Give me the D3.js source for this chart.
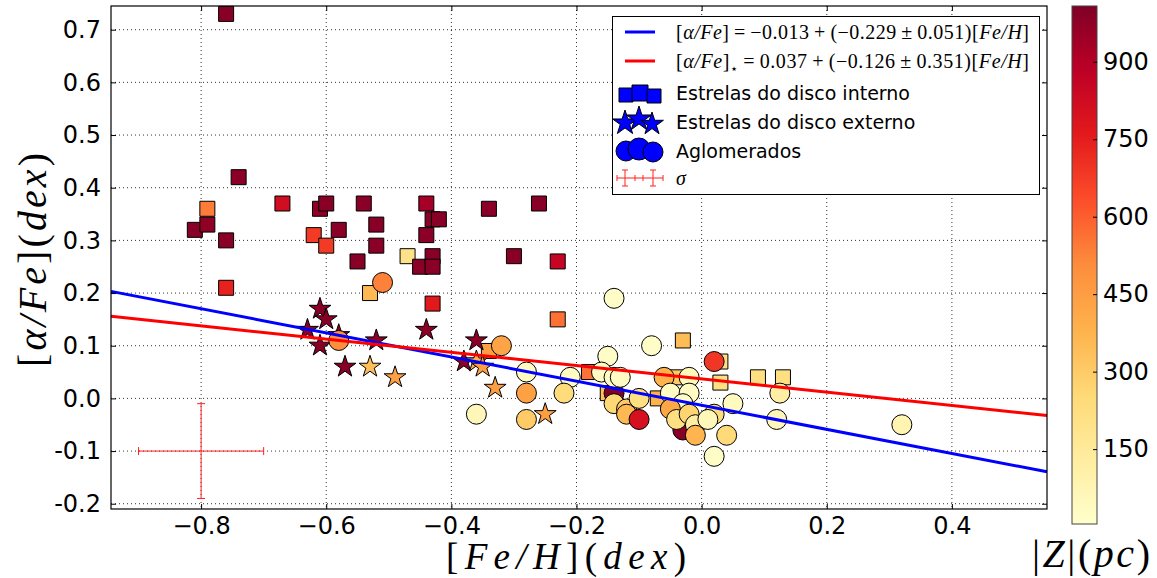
<!DOCTYPE html>
<html>
<head>
<meta charset="utf-8">
<script src="https://cdn.jsdelivr.net/npm/d3@7"></script>
<style>
  body { margin: 0; background: #fff; }
  svg { display: block; }
</style>
</head>
<body>
<svg id="chart" width="1157" height="578"></svg>
<script>
// ---- Inner-disk stars (squares) ----
const innerFeH   = [-0.76,-0.74,-0.79,-0.81,-0.79,-0.76,-0.76,-0.67,-0.61,-0.60,-0.62,-0.60,-0.58,-0.54,-0.52,-0.52,-0.55,-0.47,-0.53,-0.44,-0.43,-0.42,-0.44,-0.45,-0.43,-0.43,-0.43,-0.34,-0.26,-0.30,-0.23,-0.23,-0.34,-0.18,-0.03,0.03,0.03,0.09,-0.04,-0.07,-0.15,0.13];
const innerAlpha = [0.73,0.42,0.36,0.32,0.33,0.30,0.21,0.37,0.36,0.37,0.31,0.29,0.32,0.37,0.33,0.29,0.26,0.27,0.20,0.37,0.34,0.34,0.31,0.25,0.27,0.25,0.18,0.36,0.37,0.27,0.26,0.15,0.09,0.05,0.11,0.07,0.03,0.04,0.04,0.00,0.01,0.04];
const innerZ     = [990,985,540,990,980,985,740,820,975,990,680,680,985,985,990,985,990,200,360,930,985,990,985,985,990,985,760,985,990,990,860,560,450,560,350,220,220,220,310,380,330,220];

// ---- Outer-disk stars (star markers) ----
const outerFeH   = [-0.61,-0.60,-0.63,-0.61,-0.58,-0.57,-0.52,-0.53,-0.49,-0.44,-0.36,-0.38,-0.36,-0.35,-0.33,-0.25];
const outerAlpha = [0.17,0.15,0.13,0.10,0.12,0.06,0.11,0.06,0.04,0.13,0.11,0.07,0.07,0.06,0.02,-0.03];
const outerZ     = [990,990,985,990,985,990,985,340,440,985,985,985,380,450,450,450];

// ---- Open clusters (circles) ----
const clusterFeH   = [-0.51,-0.58,-0.32,-0.28,-0.28,-0.36,-0.28,-0.21,-0.22,-0.14,-0.08,-0.15,-0.14,-0.03,-0.16,-0.14,-0.13,-0.14,-0.12,-0.12,-0.10,-0.10,-0.06,-0.05,-0.02,-0.02,-0.03,-0.05,-0.04,-0.02,-0.01,-0.01,0.02,0.02,0.01,0.05,0.04,0.02,0.125,0.12,0.32];
const clusterAlpha = [0.22,0.11,0.10,0.05,0.01,-0.03,-0.04,0.04,0.01,0.19,0.10,0.08,0.01,-0.06,0.05,0.04,0.04,-0.01,-0.02,-0.03,-0.04,0.00,0.04,0.01,0.04,0.01,-0.01,-0.02,-0.04,-0.03,-0.05,-0.07,0.07,-0.03,-0.04,-0.01,-0.07,-0.11,0.01,-0.04,-0.05];
const clusterZ     = [530,500,430,40,440,60,300,30,240,20,20,20,1000,990,30,30,30,260,300,360,800,220,380,30,50,30,15,420,220,270,120,370,690,240,60,40,250,20,120,60,80];

// ---- Linear fits: [a/Fe] = a + b [Fe/H] ----
const fitAll   = { a: -0.013, b: -0.229 };
const fitStars = { a: 0.037,  b: -0.126 };

// ---- Representative uncertainty ----
const sigmaPoint = { x: -0.8, y: -0.1, dx: 0.1, dy: 0.09 };

// ---- Axes ticks ----
const xTicks = [-0.8,-0.6,-0.4,-0.2,0.0,0.2,0.4];
const xTickLabels = ["\u22120.8","\u22120.6","\u22120.4","\u22120.2","0.0","0.2","0.4"];
const yTicks = [-0.2,-0.1,0.0,0.1,0.2,0.3,0.4,0.5,0.6,0.7];
const yTickLabels = ["-0.2","-0.1","0.0","0.1","0.2","0.3","0.4","0.5","0.6","0.7"];
const zTicks = [150,300,450,600,750,900];
const zRange = [5, 1008];
const ylOrRd = ["#ffffcc","#ffeda0","#fed976","#feb24c","#fd8d3c","#fc4e2a","#e31a1c","#bd0026","#800026"];

// ---- Layout ----
const plot = { left: 111, right: 1047, top: 6, bottom: 509 };
const cbar = { left: 1072, right: 1097, top: 6, bottom: 524 };

const svg = d3.select("#chart");
const x = d3.scaleLinear().domain([-0.944, 0.552]).range([plot.left, plot.right]);
const y = d3.scaleLinear().domain([-0.21, 0.745]).range([plot.bottom, plot.top]);
const zNorm = d3.scaleLinear().domain(zRange).range([0, 1]).clamp(true);
const cStops = d3.scaleLinear().domain(ylOrRd.map((_, i) => i / (ylOrRd.length - 1))).range(ylOrRd);
const color = v => cStops(zNorm(v));

const sansFont = "DejaVu Sans, sans-serif";
const mathFont = "Liberation Serif, DejaVu Serif, serif";

// Grid (dotted)
const grid = svg.append("g");
grid.selectAll("line.gx").data(xTicks).join("line")
  .attr("x1", d => x(d)).attr("x2", d => x(d))
  .attr("y1", plot.top).attr("y2", plot.bottom);
grid.selectAll("line.gy").data(yTicks).join("line")
  .attr("y1", d => y(d)).attr("y2", d => y(d))
  .attr("x1", plot.left).attr("x2", plot.right);
grid.selectAll("line").attr("stroke", "#000").attr("stroke-width", 1)
  .attr("stroke-dasharray", "1,3").attr("opacity", 0.8);

// Markers
const marks = svg.append("g").attr("stroke", "#000").attr("stroke-width", 1);
const inner = innerFeH.map((v, i) => ({ x: v, y: innerAlpha[i], z: innerZ[i] }));
const outer = outerFeH.map((v, i) => ({ x: v, y: outerAlpha[i], z: outerZ[i] }));
const clus  = clusterFeH.map((v, i) => ({ x: v, y: clusterAlpha[i], z: clusterZ[i] }));

const squarePath = d3.symbol(d3.symbolSquare, 15 * 15)();
const starPath   = d3.symbol(d3.symbolStar, 11.5 * 11.5 / 0.8908)();

marks.selectAll("path.sq").data(inner).join("path")
  .attr("d", squarePath)
  .attr("transform", d => `translate(${x(d.x)},${y(d.y)})`)
  .attr("fill", d => color(d.z));
marks.selectAll("path.st").data(outer).join("path")
  .attr("d", starPath)
  .attr("transform", d => `translate(${x(d.x)},${y(d.y)})`)
  .attr("fill", d => color(d.z));
marks.selectAll("circle").data(clus).join("circle")
  .attr("cx", d => x(d.x)).attr("cy", d => y(d.y)).attr("r", 10)
  .attr("fill", d => color(d.z));

// Fit lines
const xd = x.domain();
const line = d3.line().x(d => x(d[0])).y(d => y(d[1]));
[[fitAll, "#0000ff"], [fitStars, "#ff0000"]].forEach(([f, c]) => {
  svg.append("path")
    .attr("d", line(xd.map(v => [v, f.a + f.b * v])))
    .attr("stroke", c).attr("stroke-width", 3).attr("fill", "none");
});

// Uncertainty cross
const eb = svg.append("g").attr("stroke", "#ff2020").attr("stroke-width", 1);
const ex0 = x(sigmaPoint.x - sigmaPoint.dx), ex1 = x(sigmaPoint.x + sigmaPoint.dx);
const ey0 = y(sigmaPoint.y + sigmaPoint.dy), ey1 = y(sigmaPoint.y - sigmaPoint.dy);
const ecx = x(sigmaPoint.x), ecy = y(sigmaPoint.y);
eb.append("line").attr("x1", ex0).attr("x2", ex1).attr("y1", ecy).attr("y2", ecy);
eb.append("line").attr("x1", ecx).attr("x2", ecx).attr("y1", ey0).attr("y2", ey1);
[ex0, ex1].forEach(v => eb.append("line").attr("x1", v).attr("x2", v).attr("y1", ecy - 4).attr("y2", ecy + 4));
[ey0, ey1].forEach(v => eb.append("line").attr("y1", v).attr("y2", v).attr("x1", ecx - 4).attr("x2", ecx + 4));

// Frame and inward ticks
svg.append("rect").attr("x", plot.left).attr("y", plot.top)
  .attr("width", plot.right - plot.left).attr("height", plot.bottom - plot.top)
  .attr("fill", "none").attr("stroke", "#000").attr("stroke-width", 1.2);

const tickLen = 5;
const ax = svg.append("g").attr("font-family", sansFont).attr("font-size", 24);
ax.append("g").attr("transform", `translate(0,${plot.bottom})`)
  .call(d3.axisBottom(x).tickValues(xTicks).tickSize(-tickLen).tickPadding(8)
    .tickFormat((d, i) => xTickLabels[i]));
ax.append("g").attr("transform", `translate(${plot.left},0)`)
  .call(d3.axisLeft(y).tickValues(yTicks).tickSize(-tickLen).tickPadding(10)
    .tickFormat((d, i) => yTickLabels[i]));
ax.append("g").attr("transform", `translate(0,${plot.top})`)
  .call(d3.axisTop(x).tickValues(xTicks).tickSize(-tickLen).tickFormat(""));
ax.append("g").attr("transform", `translate(${plot.right},0)`)
  .call(d3.axisRight(y).tickValues(yTicks).tickSize(-tickLen).tickFormat(""));
ax.selectAll(".domain").remove();
ax.selectAll("text").attr("fill", "#000").attr("font-family", sansFont).attr("font-size", 24);

// Axis titles (math-style: brackets upright, symbols italic)
function mathLabel(sel, parts) {
  parts.forEach(([t, it]) => sel.append("tspan").text(t).attr("font-style", it ? "italic" : "normal"));
  return sel;
}
mathLabel(svg.append("text").attr("x", 566).attr("y", 569).attr("text-anchor", "middle")
  .attr("font-family", mathFont).attr("font-size", 37)
  .attr("textLength", 240).attr("lengthAdjust", "spacing"),
  [["[", 0], ["Fe/H", 1], ["](", 0], ["dex", 1], [")", 0]]);
mathLabel(svg.append("text").attr("transform", "translate(46,260) rotate(-90)").attr("text-anchor", "middle")
  .attr("font-family", mathFont).attr("font-size", 40)
  .attr("textLength", 214).attr("lengthAdjust", "spacing"),
  [["[", 0], ["\u03b1/Fe", 1], ["](", 0], ["dex", 1], [")", 0]]);

// Colour bar
const defs = svg.append("defs");
const grad = defs.append("linearGradient").attr("id", "zgrad")
  .attr("x1", 0).attr("x2", 0).attr("y1", 1).attr("y2", 0);
ylOrRd.forEach((c, i) => grad.append("stop").attr("offset", i / (ylOrRd.length - 1)).attr("stop-color", c));
svg.append("rect").attr("x", cbar.left).attr("y", cbar.top)
  .attr("width", cbar.right - cbar.left).attr("height", cbar.bottom - cbar.top)
  .attr("fill", "url(#zgrad)").attr("stroke", "#444").attr("stroke-width", 1);
const zScale = d3.scaleLinear().domain(zRange).range([cbar.bottom, cbar.top]);
const cb = svg.append("g").attr("transform", `translate(${cbar.right},0)`)
  .call(d3.axisRight(zScale).tickValues(zTicks).tickSize(-4).tickPadding(6));
cb.select(".domain").remove();
cb.selectAll("line").attr("stroke", "#000");
cb.selectAll("text").attr("font-family", sansFont).attr("font-size", 24).attr("fill", "#000");
mathLabel(svg.append("text").attr("x", 1091).attr("y", 567).attr("text-anchor", "middle")
  .attr("font-family", mathFont).attr("font-size", 40)
  .attr("textLength", 118).attr("lengthAdjust", "spacing"),
  [["|", 0], ["Z", 1], ["|(", 0], ["pc", 1], [")", 0]]);

// Legend
const lg = svg.append("g");
lg.append("rect").attr("x", 612.5).attr("y", 16.5).attr("width", 427).attr("height", 178)
  .attr("fill", "#fff").attr("stroke", "#000").attr("stroke-width", 1);
const lgText = 676;
lg.append("line").attr("x1", 625).attr("x2", 655).attr("y1", 32).attr("y2", 32)
  .attr("stroke", "#0000ff").attr("stroke-width", 3);
lg.append("line").attr("x1", 625).attr("x2", 655).attr("y1", 61).attr("y2", 61)
  .attr("stroke", "#ff0000").attr("stroke-width", 3);
mathLabel(lg.append("text").attr("x", lgText).attr("y", 39).attr("font-family", mathFont).attr("font-size", 20)
  .attr("textLength", 353).attr("lengthAdjust", "spacing"),
  [["[", 0], ["\u03b1/Fe", 1], ["]\u2009=\u2009\u22120.013\u2009+\u2009(\u22120.229\u2009\u00b1\u20090.051)[", 0], ["Fe/H", 1], ["]", 0]]);
const t2 = lg.append("text").attr("x", lgText).attr("y", 68).attr("font-family", mathFont).attr("font-size", 20)
  .attr("textLength", 353).attr("lengthAdjust", "spacing");
mathLabel(t2, [["[", 0], ["\u03b1/Fe", 1], ["]", 0]]);
t2.append("tspan").text("\u22c6").attr("font-size", 13).attr("dy", 5);
t2.append("tspan").text("\u2009=\u20090.037\u2009+\u2009(\u22120.126\u2009\u00b1\u20090.351)[").attr("dy", -5);
mathLabel(t2, [["Fe/H", 1], ["]", 0]]);

const lgMarks = lg.append("g").attr("stroke", "#000").attr("stroke-width", 1).attr("fill", "#0000ff");
[[626, 95, 14], [640, 93, 16], [654, 96, 14]].forEach(([cx, cy, s]) =>
  lgMarks.append("path").attr("d", d3.symbol(d3.symbolSquare, s * s)()).attr("transform", `translate(${cx},${cy})`));
[[625, 123, 13], [639, 119, 13], [652, 124, 12]].forEach(([cx, cy, r]) =>
  lgMarks.append("path").attr("d", d3.symbol(d3.symbolStar, r * r / 0.8908)()).attr("transform", `translate(${cx},${cy})`));
[[626, 151, 10], [639, 149, 11], [653, 152, 10]].forEach(([cx, cy, r]) =>
  lgMarks.append("circle").attr("cx", cx).attr("cy", cy).attr("r", r));

const lgEb = lg.append("g").attr("stroke", "#ff2020").attr("stroke-width", 1);
lgEb.append("line").attr("x1", 617).attr("x2", 663).attr("y1", 178).attr("y2", 178);
[625, 653].forEach(v => {
  lgEb.append("line").attr("x1", v).attr("x2", v).attr("y1", 170).attr("y2", 186);
  lgEb.append("line").attr("x1", v - 3).attr("x2", v + 3).attr("y1", 170).attr("y2", 170);
  lgEb.append("line").attr("x1", v - 3).attr("x2", v + 3).attr("y1", 186).attr("y2", 186);
});
[617, 635, 643, 663].forEach(v =>
  lgEb.append("line").attr("x1", v).attr("x2", v).attr("y1", 175).attr("y2", 181));

const lgLabels = ["Estrelas do disco interno", "Estrelas do disco externo", "Aglomerados"];
[100, 129, 158].forEach((yy, i) =>
  lg.append("text").attr("x", lgText).attr("y", yy).attr("font-family", sansFont)
    .attr("font-size", 19).attr("fill", "#000").text(lgLabels[i]));
lg.append("text").attr("x", lgText).attr("y", 185).attr("font-family", mathFont)
  .attr("font-size", 20).attr("font-style", "italic").text("\u03c3");
</script>
</body>
</html>
